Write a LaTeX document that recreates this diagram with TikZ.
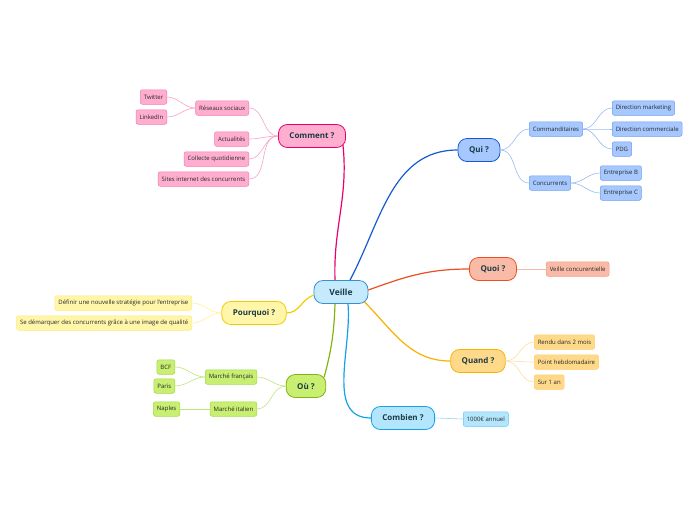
\documentclass[tikz,border=0pt]{standalone}
\usepackage{fontspec}
\setmainfont{Open Sans}
\usetikzlibrary{arrows.meta}
\definecolor{vlink}{HTML}{1A3A44}
\definecolor{pinkF}{HTML}{FFAED0}\definecolor{pinkD}{HTML}{E8006E}\definecolor{pinkL}{HTML}{F27AB0}
\definecolor{blueF}{HTML}{A6C8FF}\definecolor{blueD}{HTML}{1659D0}\definecolor{blueL}{HTML}{6E9FEA}
\definecolor{redF}{HTML}{F9BBA8}\definecolor{redD}{HTML}{EC4E22}\definecolor{redL}{HTML}{F39A84}
\definecolor{yelF}{HTML}{FFD98A}\definecolor{yelD}{HTML}{F7B200}\definecolor{yelL}{HTML}{FFCF6A}
\definecolor{cyanF}{HTML}{B3E5FC}\definecolor{cyanD}{HTML}{12A2E8}\definecolor{cyanL}{HTML}{66C6F2}
\definecolor{grnF}{HTML}{C8EE72}\definecolor{grnD}{HTML}{84B412}\definecolor{grnL}{HTML}{A6D648}
\definecolor{lemF}{HTML}{FFF6AA}\definecolor{lemD}{HTML}{F2CC00}\definecolor{lemL}{HTML}{FFE878}
\definecolor{rootF}{HTML}{C5EAFD}\definecolor{rootD}{HTML}{3A8FCF}
\tikzset{
  vl root/.style={
    rounded corners=9pt,draw=rootD,fill=rootF,line width=0.8pt,minimum height=23pt,
    minimum width=54pt,text=vlink,font=\fontsize{8.5}{10}\selectfont\bfseries
  },
  vl main/.style 2 args={
    rounded corners=9pt,draw=#1,fill=#2,line width=0.8pt,minimum height=23pt,
    inner xsep=11pt,text=vlink,font=\fontsize{8}{10}\selectfont\bfseries
  },
  vl sub/.style 2 args={
    rounded corners=2pt,draw=#1,fill=#2,line width=0.5pt,minimum height=14.5pt,
    inner xsep=3.5pt,inner ysep=0pt,text=black!85,font=\fontsize{6}{7}\selectfont
  },
  vl edge/.style={#1,line width=1.2pt},
  vl twig/.style={#1!70,line width=0.6pt}
}
\begin{document}
\begin{tikzpicture}[x=1pt,y=1pt]
  \useasboundingbox (0,0) rectangle (696,-520);
  % centre and branches
  \node[vl root] (veille) at (341,-292) {Veille};
  \node[vl main={pinkD}{pinkF}] (comment) at (312,-136) {Comment ?};
  \node[vl main={blueD}{blueF}] (qui) at (479,-150) {Qui ?};
  \node[vl main={redD}{redF}] (quoi) at (493,-269) {Quoi ?};
  \node[vl main={yelD}{yelF}] (quand) at (478,-361) {Quand ?};
  \node[vl main={cyanD}{cyanF}] (combien) at (403,-418) {Combien ?};
  \node[vl main={grnD}{grnF}] (ou) at (306,-386) {Où ?};
  \node[vl main={lemD}{lemF}] (pourquoi) at (254,-313) {Pourquoi ?};
  % Comment ?
  \node[vl sub={pinkL}{pinkF},anchor=east] (reseaux) at (249,-108) {Réseaux sociaux};
  \node[vl sub={pinkL}{pinkF},anchor=east] (twitter) at (167,-97) {Twitter};
  \node[vl sub={pinkL}{pinkF},anchor=east] (linkedin) at (167,-117) {LinkedIn};
  \node[vl sub={pinkL}{pinkF},anchor=east] (actu) at (249,-139) {Actualités};
  \node[vl sub={pinkL}{pinkF},anchor=east] (collecte) at (249,-159) {Collecte quotidienne};
  \node[vl sub={pinkL}{pinkF},anchor=east] (sites) at (249,-179) {Sites internet des concurrents};
  % Qui ?
  \node[vl sub={blueL}{blueF},anchor=west] (comm) at (529,-129) {Commanditaires};
  \node[vl sub={blueL}{blueF},anchor=west] (dirmark) at (612,-108) {Direction marketing};
  \node[vl sub={blueL}{blueF},anchor=west] (dircom) at (612,-129) {Direction commerciale};
  \node[vl sub={blueL}{blueF},anchor=west] (pdg) at (612,-149) {PDG};
  \node[vl sub={blueL}{blueF},anchor=west] (conc) at (529,-183) {Concurrents};
  \node[vl sub={blueL}{blueF},anchor=west] (entb) at (600,-173) {Entreprise B};
  \node[vl sub={blueL}{blueF},anchor=west] (entc) at (600,-193) {Entreprise C};
  % Quoi ? / Quand ? / Combien ?
  \node[vl sub={redL}{redF},anchor=west] (veilleconc) at (546,-269) {Veille concurentielle};
  \node[vl sub={yelL}{yelF},anchor=west] (rendu) at (534,-342) {Rendu dans 2 mois};
  \node[vl sub={yelL}{yelF},anchor=west] (point) at (534,-362) {Point hebdomadaire};
  \node[vl sub={yelL}{yelF},anchor=west] (sur) at (534,-382) {Sur 1 an};
  \node[vl sub={cyanL}{cyanF},anchor=west] (budget) at (463,-419) {1000€ annuel};
  % Pourquoi ?
  \node[vl sub={lemL}{lemF},anchor=east] (definir) at (192,-303) {Définir une nouvelle stratégie pour l'entreprise};
  \node[vl sub={lemL}{lemF},anchor=east] (demarquer) at (192,-323) {Se démarquer des concurrents grâce à une image de qualité};
  % Où ?
  \node[vl sub={grnL}{grnF},anchor=east] (mfr) at (257,-377) {Marché français};
  \node[vl sub={grnL}{grnF},anchor=east] (mit) at (257,-409) {Marché italien};
  \node[vl sub={grnL}{grnF},anchor=east] (bcf) at (175,-367) {BCF};
  \node[vl sub={grnL}{grnF},anchor=east] (paris) at (175,-386) {Paris};
  \node[vl sub={grnL}{grnF},anchor=east] (naples) at (180,-409) {Naples};

  % main connectors
  \draw[vl edge=pinkD] ([xshift=-6pt]veille.north) to[out=92,in=-84] ([xshift=-3pt,yshift=3pt]comment.south east);
  \draw[vl edge=blueD] ([xshift=9pt]veille.north) to[out=62,in=180] (qui.west);
  \draw[vl edge=redD] ([yshift=2pt]veille.east) to[out=20,in=180] (quoi.west);
  \draw[vl edge=yelD] ([xshift=-4pt,yshift=2pt]veille.south east) to[out=-45,in=180] (quand.west);
  \draw[vl edge=cyanD] ([xshift=7pt]veille.south) to[out=-85,in=180] (combien.west);
  \draw[vl edge=grnD] ([xshift=-6pt]veille.south) to[out=-92,in=75] ([xshift=-2pt,yshift=-3pt]ou.north east);
  \draw[vl edge=lemD] ([yshift=-3pt]veille.west) to[out=200,in=0] (pourquoi.east);
  % twigs
  \foreach \c in {reseaux,actu,collecte,sites}
    \draw[vl twig=pinkL] (comment.west) to[out=180,in=0] (\c.east);
  \draw[vl twig=pinkL] (reseaux.west) to[out=180,in=0] (twitter.east);
  \draw[vl twig=pinkL] (reseaux.west) to[out=180,in=0] (linkedin.east);
  \foreach \c in {comm,conc}
    \draw[vl twig=blueL] (qui.east) to[out=0,in=180] (\c.west);
  \foreach \c in {dirmark,dircom,pdg}
    \draw[vl twig=blueL] (comm.east) to[out=0,in=180] (\c.west);
  \foreach \c in {entb,entc}
    \draw[vl twig=blueL] (conc.east) to[out=0,in=180] (\c.west);
  \draw[vl twig=redL] (quoi.east) -- (veilleconc.west);
  \foreach \c in {rendu,point,sur}
    \draw[vl twig=yelL] (quand.east) to[out=0,in=180] (\c.west);
  \draw[vl twig=cyanL] (combien.east) -- (budget.west);
  \foreach \c in {definir,demarquer}
    \draw[vl twig=lemL] (pourquoi.west) to[out=180,in=0] (\c.east);
  \foreach \c in {mfr,mit}
    \draw[vl twig=grnL] (ou.west) to[out=180,in=0] (\c.east);
  \foreach \c in {bcf,paris}
    \draw[vl twig=grnL] (mfr.west) to[out=180,in=0] (\c.east);
  \draw[vl twig=grnL] (mit.west) -- (naples.east);
\end{tikzpicture}
\end{document}
